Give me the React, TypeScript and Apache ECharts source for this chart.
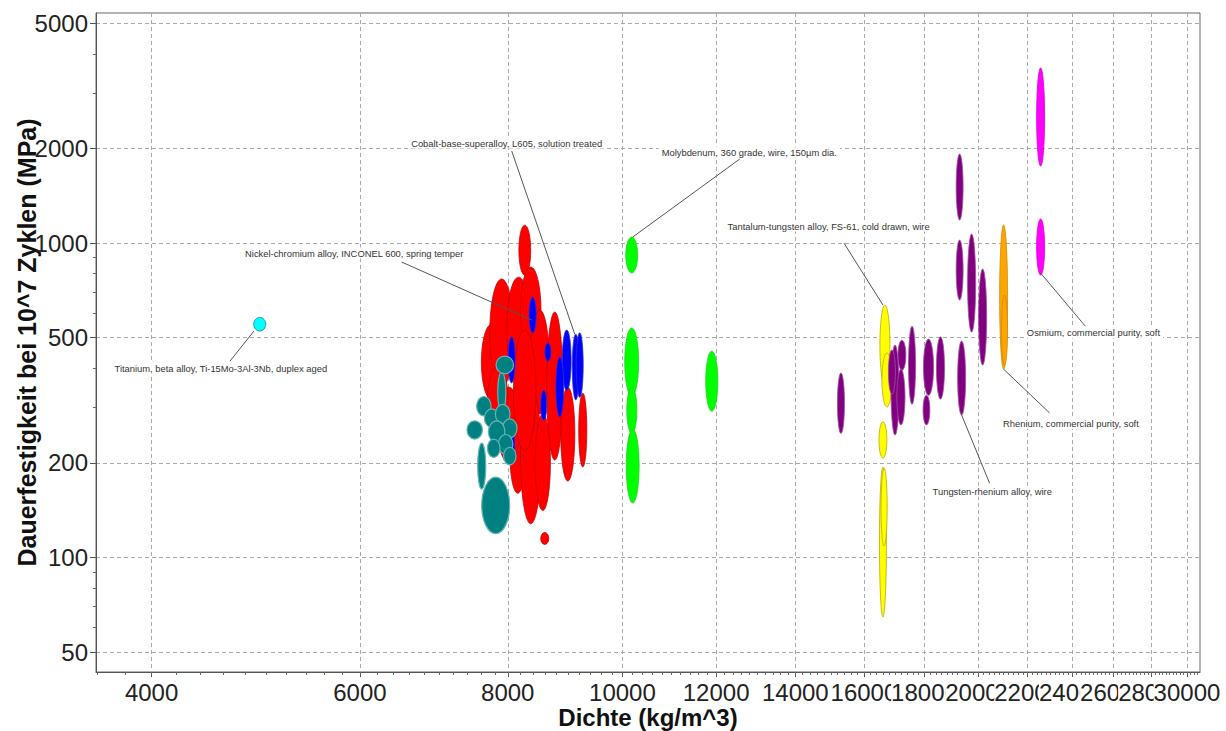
import React, { useEffect, useRef } from "react";
import * as echarts from "echarts";

// ---------- axes ----------
const X_MIN = 3590;
const X_MAX = 30770;
const Y_MIN = 43.2;
const Y_MAX = 5393;
const X_TICKS = [4000, 6000, 8000, 10000, 12000, 14000, 16000, 18000, 20000, 22000, 24000, 26000, 28000, 30000];
const X_LABEL_END = 30700; // empty end label, keeps every real label visible
const Y_TICKS = [50, 100, 200, 500, 1000, 2000, 5000];
const Y_MINOR = [60, 70, 80, 90, 300, 400, 600, 700, 800, 900, 3000, 4000];
const X_TITLE = "Dichte (kg/m^3)";
const Y_TITLE = "Dauerfestigkeit bei 10^7 Zyklen (MPa)";

// ---------- material ranges: [densityLow, densityHigh, strengthLow, strengthHigh] ----------
const CYAN = [[4880, 4995, 525, 580]];
const RED = [
  [8175, 8365, 790, 1140],
  [7600, 7910, 317, 552],
  [7725, 8090, 348, 768],
  [7985, 8360, 369, 779],
  [8200, 8535, 434, 839],
  [8360, 8670, 286, 612],
  [8630, 8905, 204, 603],
  [8870, 9115, 175, 348],
  [9185, 9330, 194, 333],
  [8035, 8280, 160, 280],
  [8200, 8535, 128, 348],
  [8438, 8692, 141, 286],
  [7840, 8195, 200, 348],
  [7690, 8005, 248, 403],
  [8530, 8665, 110, 120],
  [8090, 8450, 219, 529],
];
const BLUE = [
  [8340, 8455, 518, 673],
  [8005, 8115, 359, 503],
  [8895, 9050, 340, 529],
  [9070, 9195, 317, 513],
  [9140, 9265, 323, 518],
  [8785, 8920, 280, 434],
  [8600, 8700, 421, 481],
  [8530, 8630, 273, 340],
  [8015, 8110, 198, 254],
];
const TEAL = [
  [7605, 8030, 119, 180],
  [7545, 7665, 165, 231],
  [7390, 7615, 238, 272],
  [7845, 7970, 290, 389],
  [7820, 8090, 384, 437],
  [7530, 7745, 282, 325],
  [7645, 7865, 259, 297],
  [7810, 8035, 266, 307],
  [7920, 8145, 240, 276],
  [7705, 7955, 231, 272],
  [7855, 8080, 213, 246],
  [7690, 7880, 208, 238],
  [7935, 8130, 197, 224],
];
const GREEN = [
  [10065, 10300, 803, 1045],
  [10045, 10320, 326, 537],
  [10085, 10285, 248, 348],
  [10075, 10330, 149, 256],
  [11760, 12040, 292, 453],
];
const YELLOW = [
  [16505, 16830, 353, 635],
  [16570, 16895, 301, 447],
  [16475, 16730, 207, 270],
  [16490, 16715, 64.6, 194],
  [16540, 16740, 108.6, 192],
];
const PURPLE = [
  [15195, 15405, 248, 386],
  [16865, 17130, 245, 474],
  [17095, 17360, 394, 491],
  [17060, 17330, 264, 397],
  [17450, 17690, 307, 544],
  [17965, 18320, 328, 495],
  [17950, 18190, 264, 328],
  [18425, 18715, 319, 503],
  [19200, 19500, 284, 488],
  [19145, 19405, 1184, 1919],
  [19145, 19405, 659, 1022],
  [19575, 19885, 521, 1068],
  [20000, 20315, 409, 827],
  [16780, 17010, 331, 457],
];
const ORANGE = [
  [20835, 21160, 397, 1141],
  [20910, 21160, 409, 684],
];
const MAGENTA = [
  [22390, 22740, 1758, 3605],
  [22390, 22740, 791, 1192],
];

// ---------- annotations: ellipse point, leader end, text left-middle ----------
const ANNOTATIONS = [
  { text: "Titanium, beta alloy, Ti-15Mo-3Al-3Nb, duplex aged", from: [4882, 525], to: [4659, 421], at: [3700, 400] },
  { text: "Nickel-chromium alloy, INCONEL 600, spring temper", from: [8382, 569], to: [6509, 870], at: [4770, 929] },
  { text: "Cobalt-base-superalloy, L605, solution treated", from: [9114, 513], to: [8062, 1962], at: [6590, 2080] },
  { text: "Molybdenum, 360 grade, wire, 150µm dia.", from: [10202, 1045], to: [12564, 1850], at: [10730, 1948] },
  { text: "Tantalum-tungsten alloy, FS-61, cold drawn, wire", from: [16603, 635], to: [15389, 1000], at: [12200, 1133] },
  { text: "Osmium, commercial purity, soft", from: [22563, 803], to: [24615, 544], at: [21840, 518] },
  { text: "Rhenium, commercial purity, soft", from: [20997, 397], to: [22963, 288], at: [20850, 267] },
  { text: "Tungsten-rhenium alloy, wire", from: [19348, 284], to: [20433, 172], at: [18180, 162.5] },
];

const FONT = '"Liberation Sans", Arial, Helvetica, sans-serif';
const lg = (v: number) => Math.log10(v);

const GROUPS = [
  { data: CYAN, fill: "#00ffff", stroke: "#1a9aa8", lw: 1 },
  { data: RED, fill: "#ff0000", stroke: "#c40000", lw: 0.8 },
  { data: BLUE, fill: "#0000ff", stroke: "#3030c0", lw: 0.8 },
  { data: TEAL, fill: "#008080", stroke: "#66b3b3", lw: 1.2 },
  { data: GREEN, fill: "#00ff00", stroke: "#22d022", lw: 0.8 },
  { data: YELLOW, fill: "#ffff00", stroke: "#b8aa00", lw: 0.8 },
  { data: PURPLE, fill: "#800080", stroke: "#a050a0", lw: 0.8 },
  { data: ORANGE, fill: "#ffa500", stroke: "#d08a00", lw: 0.8 },
  { data: MAGENTA, fill: "#ff00ff", stroke: "#d000d0", lw: 0.8 },
];

function buildOption() {
  const xMinor: number[] = [];
  for (let v = 3600; v <= 30600; v += 200) xMinor.push(v);
  const fmt = (v: number) => String(Math.round(Math.pow(10, v)));
  const fmtX = (v: number) => (Math.pow(10, v) > X_TICKS[X_TICKS.length - 1] + 1 ? " " : fmt(v));

  const ellipseSeries = GROUPS.map((g) => ({
    type: "custom",
    xAxisIndex: 0,
    yAxisIndex: 0,
    clip: true,
    silent: true,
    encode: { x: [0, 1], y: [2, 3] },
    data: g.data.map((r) => [lg(r[0]), lg(r[1]), lg(r[2]), lg(r[3])]),
    renderItem: (params: any, api: any) => {
      const p0 = api.coord([api.value(0), api.value(2)]);
      const p1 = api.coord([api.value(1), api.value(3)]);
      return {
        type: "ellipse",
        shape: {
          cx: (p0[0] + p1[0]) / 2,
          cy: (p0[1] + p1[1]) / 2,
          rx: Math.abs(p1[0] - p0[0]) / 2,
          ry: Math.abs(p1[1] - p0[1]) / 2,
        },
        style: { fill: g.fill, stroke: g.stroke, lineWidth: g.lw },
      };
    },
  }));

  const annotationSeries = {
    type: "custom",
    xAxisIndex: 0,
    yAxisIndex: 0,
    clip: false,
    silent: true,
    encode: { x: [0, 2, 4], y: [1, 3, 5] },
    data: ANNOTATIONS.map((a) => [lg(a.from[0]), lg(a.from[1]), lg(a.to[0]), lg(a.to[1]), lg(a.at[0]), lg(a.at[1])]),
    renderItem: (params: any, api: any) => {
      const f = api.coord([api.value(0), api.value(1)]);
      const t = api.coord([api.value(2), api.value(3)]);
      const p = api.coord([api.value(4), api.value(5)]);
      return {
        type: "group",
        children: [
          {
            type: "text",
            x: p[0],
            y: p[1],
            style: {
              text: ANNOTATIONS[params.dataIndex].text,
              fill: "#333",
              fontSize: 9.4,
              fontFamily: FONT,
              align: "left",
              verticalAlign: "middle",
              backgroundColor: "#fff",
              padding: [1, 3],
            },
          },
          {
            type: "line",
            shape: { x1: f[0], y1: f[1], x2: t[0], y2: t[1] },
            style: { stroke: "#555", lineWidth: 1 },
          },
        ],
      };
    },
  };

  return {
    animation: false,
    backgroundColor: "#fff",
    grid: {
      left: 96,
      top: 13,
      width: 1104,
      height: 659,
      containLabel: false,
      outerBoundsMode: "none",
      show: true,
      borderColor: "#666",
      borderWidth: 1,
    },
    xAxis: [
      {
        type: "value",
        position: "bottom",
        min: lg(X_MIN),
        max: lg(X_MAX),
        name: X_TITLE,
        nameLocation: "middle",
        nameGap: 33,
        nameMoveOverlap: false,
        nameTextStyle: { fontFamily: FONT, fontSize: 24, fontWeight: "bold", color: "#111" },
        axisLine: { show: true, onZero: false, lineStyle: { color: "#555", width: 1 } },
        axisTick: { show: true, customValues: X_TICKS.map(lg), length: 5, lineStyle: { color: "#555" } },
        axisLabel: {
          customValues: [...X_TICKS, X_LABEL_END].map(lg),
          formatter: fmtX,
          fontFamily: FONT,
          fontSize: 24,
          color: "#222",
          margin: 8,
          backgroundColor: "#fff",
          hideOverlap: false,
        },
        splitLine: { show: true, lineStyle: { color: "#aaa", type: [4, 3], width: 1 } },
      },
      {
        type: "value",
        position: "bottom",
        min: lg(X_MIN),
        max: lg(X_MAX),
        axisLine: { show: false, onZero: false },
        axisTick: { show: true, customValues: xMinor.map(lg), length: 3, lineStyle: { color: "#666" } },
        axisLabel: { show: false },
        splitLine: { show: false },
      },
    ],
    yAxis: [
      {
        type: "value",
        position: "left",
        min: lg(Y_MIN),
        max: lg(Y_MAX),
        name: Y_TITLE,
        nameLocation: "middle",
        nameGap: 57,
        nameRotate: 90,
        nameMoveOverlap: false,
        nameTextStyle: { fontFamily: FONT, fontSize: 25, fontWeight: "bold", color: "#111" },
        axisLine: { show: true, onZero: false, lineStyle: { color: "#555", width: 1 } },
        axisTick: { show: true, customValues: Y_TICKS.map(lg), length: 6, lineStyle: { color: "#555" } },
        axisLabel: {
          customValues: Y_TICKS.map(lg),
          formatter: fmt,
          fontFamily: FONT,
          fontSize: 24,
          color: "#222",
          margin: 8,
          showMinLabel: true,
          showMaxLabel: true,
        },
        splitLine: { show: true, lineStyle: { color: "#aaa", type: [4, 3], width: 1 } },
      },
      {
        type: "value",
        position: "left",
        min: lg(Y_MIN),
        max: lg(Y_MAX),
        axisLine: { show: false, onZero: false },
        axisTick: { show: true, customValues: Y_MINOR.map(lg), length: 3, lineStyle: { color: "#666" } },
        axisLabel: { show: false },
        splitLine: { show: false },
      },
    ],
    series: [...ellipseSeries, annotationSeries],
  };
}

export default function App() {
  const ref = useRef<HTMLDivElement>(null);
  useEffect(() => {
    if (!ref.current) return;
    const chart = echarts.init(ref.current, null, { renderer: "svg" });
    chart.setOption(buildOption() as any);
    return () => chart.dispose();
  }, []);
  return (
    <div
      ref={ref}
      style={{ position: "fixed", left: 0, top: 0, width: 1226, height: 731, background: "#fff" }}
    />
  );
}
